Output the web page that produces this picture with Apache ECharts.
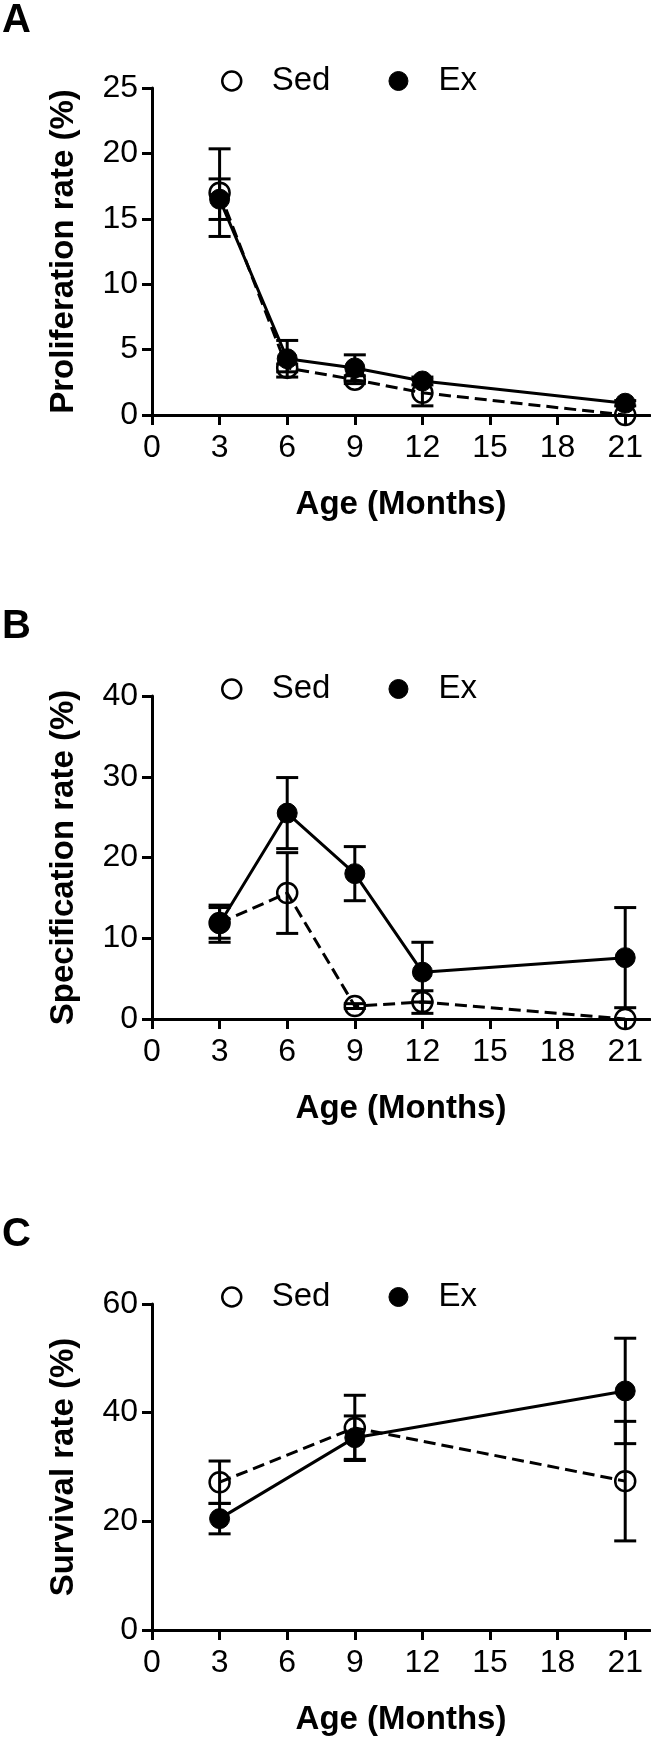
<!DOCTYPE html>
<html>
<head>
<meta charset="utf-8">
<script src="https://cdn.jsdelivr.net/npm/echarts@6/dist/echarts.min.js"></script>
<style>
  html, body { margin: 0; padding: 0; background: #fff; }
  #chart { width: 651px; height: 1740px; }
</style>
</head>
<body>
<div id="chart"></div>
<script>
// ---------- data ----------
const agesAB = [3, 6, 9, 12, 21];
const agesC = [3, 9, 21];
const xTicks = [0, 3, 6, 9, 12, 15, 18, 21];

// A: Proliferation rate (%)
const profSed = [17.0, 3.6, 2.7, 1.7, 0.0];
const profSedErr = [3.35, 0.3, 0.3, 1.0, 0.0];
const profEx = [16.5, 4.3, 3.6, 2.6, 0.9];
const profExErr = [1.55, 1.4, 1.0, 0.3, 0.2];

// B: Specification rate (%)
const specSed = [11.9, 15.6, 1.6, 2.1, 0.0];
const specSedErr = [1.9, 5.0, 0.3, 1.4, 0.0];
const specEx = [11.8, 25.5, 18.0, 5.8, 7.6];
const specExErr = [2.3, 4.4, 3.35, 3.7, 6.2];

// C: Survival rate (%)
const survSed = [27.2, 37.2, 27.4];
const survSedErr = [3.9, 6.0, 11.0];
const survEx = [20.5, 35.4, 44.0];
const survExErr = [2.8, 4.0, 9.7];

const panelLabels = ['A', 'B', 'C'];
const yTitles = ['Proliferation rate (%)', 'Specification rate (%)', 'Survival rate (%)'];
const xTitle = 'Age (Months)';
const yRanges = [[0, 25, 5], [0, 40, 10], [0, 60, 20]];

// ---------- layout / style ----------
const FONT = "'Liberation Sans', Arial, Helvetica, sans-serif";
const grids = [
  { left: 152, top: 88, width: 498, height: 327 },
  { left: 152, top: 696, width: 498, height: 323 },
  { left: 152, top: 1304, width: 498, height: 326 }
];
const labelCenters = [21, 627, 1235];
const legendCenters = [81, 689, 1297];

const chart = echarts.init(document.getElementById('chart'), null, { renderer: 'canvas' });

const xAxes = grids.map((g, i) => ({
  type: 'value', gridIndex: i, min: 0, max: 22.1,
  axisLine: { show: true, onZero: false, lineStyle: { color: '#000', width: 3 } },
  axisTick: { show: true, length: 10, lineStyle: { color: '#000', width: 3 }, customValues: xTicks },
  axisLabel: { customValues: xTicks, fontSize: 32, margin: 17, color: '#000', fontFamily: FONT },
  splitLine: { show: false },
  name: xTitle, nameLocation: 'middle', nameGap: 73,
  nameTextStyle: { fontSize: 33, fontWeight: 'bold', color: '#000', fontFamily: FONT }
}));

const yAxes = grids.map((g, i) => ({
  type: 'value', gridIndex: i, min: yRanges[i][0], max: yRanges[i][1], interval: yRanges[i][2],
  axisLine: { show: true, onZero: false, lineStyle: { color: '#000', width: 3 } },
  axisTick: { show: true, length: 10, lineStyle: { color: '#000', width: 3 } },
  axisLabel: { fontSize: 32, margin: 14, color: '#000', fontFamily: FONT },
  splitLine: { show: false },
  name: yTitles[i], nameLocation: 'middle', nameGap: 72, nameRotate: 90,
  nameTextStyle: { fontSize: 33, fontWeight: 'bold', color: '#000', fontFamily: FONT }
}));

function errSeries(ages, vals, errs, gi) {
  return {
    type: 'custom', xAxisIndex: gi, yAxisIndex: gi, z: 2, silent: true,
    data: ages.map((a, k) => [a, vals[k], errs[k]]),
    renderItem: function (params, api) {
      const x = api.value(0), y = api.value(1), e = api.value(2);
      if (!e) return null;
      const top = api.coord([x, y + e]);
      const bot = api.coord([x, y - e]);
      const hw = 11;
      const st = { stroke: '#000', lineWidth: 3 };
      return {
        type: 'group',
        children: [
          { type: 'line', shape: { x1: top[0], y1: top[1], x2: bot[0], y2: bot[1] }, style: st },
          { type: 'line', shape: { x1: top[0] - hw, y1: top[1], x2: top[0] + hw, y2: top[1] }, style: st },
          { type: 'line', shape: { x1: bot[0] - hw, y1: bot[1], x2: bot[0] + hw, y2: bot[1] }, style: st }
        ]
      };
    }
  };
}

function sedLine(ages, vals, gi) {
  return {
    name: 'Sed', type: 'line', xAxisIndex: gi, yAxisIndex: gi, z: 3,
    data: ages.map((a, k) => [a, vals[k]]),
    symbol: 'circle', symbolSize: 20, showSymbol: true,
    lineStyle: { color: '#000', width: 3, type: [12, 6] },
    itemStyle: { color: 'rgba(255,255,255,0)', borderColor: '#000', borderWidth: 2.5 },
    emphasis: { disabled: true }, animation: false
  };
}
function exLine(ages, vals, gi) {
  return {
    name: 'Ex', type: 'line', xAxisIndex: gi, yAxisIndex: gi, z: 4,
    data: ages.map((a, k) => [a, vals[k]]),
    symbol: 'circle', symbolSize: 20, showSymbol: true,
    lineStyle: { color: '#000', width: 3, type: 'solid' },
    itemStyle: { color: '#000', borderColor: '#000', borderWidth: 1 },
    emphasis: { disabled: true }, animation: false
  };
}

const series = [
  errSeries(agesAB, profSed, profSedErr, 0), errSeries(agesAB, profEx, profExErr, 0),
  sedLine(agesAB, profSed, 0), exLine(agesAB, profEx, 0),
  errSeries(agesAB, specSed, specSedErr, 1), errSeries(agesAB, specEx, specExErr, 1),
  sedLine(agesAB, specSed, 1), exLine(agesAB, specEx, 1),
  errSeries(agesC, survSed, survSedErr, 2), errSeries(agesC, survEx, survExErr, 2),
  sedLine(agesC, survSed, 2), exLine(agesC, survEx, 2)
];

const legends = legendCenters.map(c => ({
  show: true, selectedMode: false, orient: 'horizontal',
  left: 221, top: c - 16.5, padding: 0,
  itemWidth: 70, itemHeight: 19, itemGap: 58,
  icon: 'circle',
  textStyle: { fontSize: 33, color: '#000', fontFamily: FONT },
  data: [
    { name: 'Sed', icon: 'circle', itemStyle: { color: 'rgba(255,255,255,0)', borderColor: '#000', borderWidth: 2.5 } },
    { name: 'Ex', icon: 'circle', itemStyle: { color: '#000', borderColor: '#000', borderWidth: 1 } }
  ]
}));

const graphics = panelLabels.map((t, i) => ({
  type: 'text', x: 2, y: labelCenters[i],
  style: { text: t, font: 'bold 40px ' + FONT, fill: '#000', verticalAlign: 'middle', align: 'left' }
}));

chart.setOption({
  animation: false,
  backgroundColor: '#fff',
  grid: grids,
  xAxis: xAxes,
  yAxis: yAxes,
  legend: legends,
  graphic: graphics,
  series: series
});
</script>
</body>
</html>
